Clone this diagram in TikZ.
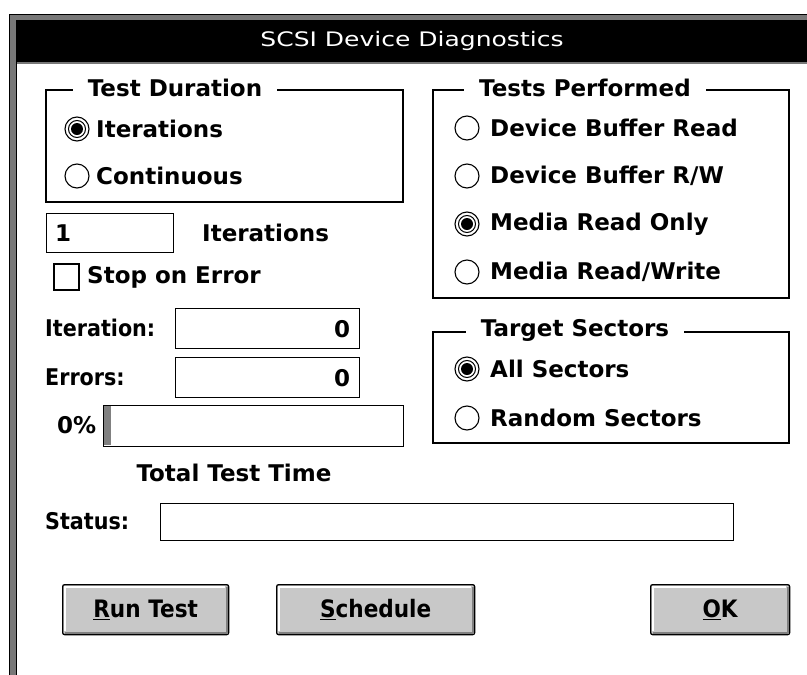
\documentclass[tikz,border=0pt]{standalone}
\usepackage{fontspec}
\setmainfont{DejaVu Sans}
\newfontfamily\titlefont[FakeStretch=1.25]{DejaVu Sans}
\newfontfamily\narrowfont[FakeStretch=0.9]{DejaVu Sans}
\usepackage{xcolor}
\usepackage{tikz}
\usetikzlibrary{positioning}

\definecolor{framegray}{RGB}{120,120,120}
\definecolor{btnface}{RGB}{200,200,200}
\definecolor{btnshade}{RGB}{128,128,128}

\begin{document}
\begin{tikzpicture}[x=1pt, y=-1pt,
  txt/.style={font=\fontsize{23}{26}\selectfont\bfseries, inner sep=0pt, anchor=west},
  narrowtxt/.style={txt, font=\narrowfont\fontsize{23}{26}\selectfont\bfseries},
  grptitle/.style={txt, anchor=center, fill=white, inner xsep=15pt, inner ysep=3pt},
  grpbox/.style={draw, line width=1.3pt},
  field/.style={draw, line width=1.3pt, fill=white, inner sep=0pt, anchor=north west},
  radio/.style={draw, line width=1.1pt, fill=white},
  btn/.style={draw, line width=1.3pt, fill=btnface, rounded corners=2pt,
    inner sep=0pt, anchor=north west, minimum height=50pt,
    font=\narrowfont\fontsize{24}{26}\selectfont\bfseries}
]
\useasboundingbox (0,0) rectangle (807,675);

% -- Window frame and title bar ---------------------------------------------
\fill[framegray] (9,14) rectangle (807,675);
\draw[black, line width=1pt] (9.5,675) -- (9.5,14.5) -- (807,14.5);
\fill[black] (16,20) rectangle (807,62);
\fill[white] (17,64) rectangle (807,675);
\draw[black, line width=1pt] (16.5,62) -- (16.5,675);
\node[font=\titlefont\fontsize{20}{24}\selectfont, text=white] (title) at (412,41)
  {SCSI Device Diagnostics};

% -- Test Duration group ----------------------------------------------------
\draw[grpbox] (46,90) rectangle (403,202);
\node[grptitle] (tdTitle) at (175,88) {Test Duration};
\foreach \y/\t [count=\i] in {129/Iterations, 176/Continuous} {
  \draw[radio] (77,\y) circle (12);
  \node[txt] (td\i) at (96,\y) {\t};
}
\draw[line width=1pt] (77,129) circle (8.5);
\fill (77,129) circle (6);

% -- Iteration count and stop option ----------------------------------------
\node[field, minimum width=127pt, minimum height=39pt] (iterBox) at (46,213) {};
\node[txt] (iterVal) at ([xshift=9pt]iterBox.west) {1};
\node[txt] (iterLbl) at (202,233) {Iterations};
\draw[line width=1.2pt] (54,264) rectangle (79,290);
\coordinate (stopBox) at (79,277);
\node[txt, right=8pt of stopBox] (stopLbl) {Stop on Error};

% -- Counters and progress --------------------------------------------------
\node[field, minimum width=184pt, minimum height=40pt] (cntIter) at (175,308) {};
\node[field, minimum width=184pt, minimum height=40pt] (cntErr) at (175,357) {};
\node[narrowtxt] (cntIterLbl) at (45,328) {Iteration:};
\node[narrowtxt] (cntErrLbl) at (45,377) {Errors:};
\node[txt, anchor=east] (cntIterVal) at ([xshift=-10pt]cntIter.east) {0};
\node[txt, anchor=east] (cntErrVal) at ([xshift=-10pt]cntErr.east) {0};
\node[field, minimum width=300pt, minimum height=41pt] (pbar) at (103,405) {};
\fill[btnshade] (104,406) rectangle (111,445);
\node[txt] (pct) at (57,425) {0\%};
\node[txt, anchor=center] (totTime) at (234,473) {Total Test Time};

% -- Tests Performed group --------------------------------------------------
\draw[grpbox] (433,90) rectangle (789,298);
\node[grptitle] (tpTitle) at (585,88) {Tests Performed};
\foreach \y/\t [count=\i] in {128/Device Buffer Read, 176/{Device Buffer R/W},
    224/Media Read Only, 272/{Media Read/Write}} {
  \draw[radio] (467,\y) circle (12);
  \node[txt] (tp\i) at (490,\y) {\t};
}
\draw[line width=1pt] (467,224) circle (8.5);
\fill (467,224) circle (6);

% -- Target Sectors group ---------------------------------------------------
\draw[grpbox] (433,332) rectangle (789,443);
\node[grptitle] (tsTitle) at (575,330) {Target Sectors};
\foreach \y/\t [count=\i] in {369/All Sectors, 418/Random Sectors} {
  \draw[radio] (467,\y) circle (12);
  \node[txt] (ts\i) at (490,\y) {\t};
}
\draw[line width=1pt] (467,369) circle (8.5);
\fill (467,369) circle (6);

% -- Status line ------------------------------------------------------------
\node[narrowtxt] (statLbl) at (45,521) {Status:};
\node[field, minimum width=573pt, minimum height=37pt] (statBox) at (160,503) {};

% -- Buttons ----------------------------------------------------------------
\node[btn, minimum width=166pt] (runBtn) at (62,584) {\underline{R}un Test};
\node[btn, minimum width=198pt] (schedBtn) at (276,584) {\underline{S}chedule};
\node[btn, minimum width=139pt] (okBtn) at (650,584) {\underline{O}K};
\foreach \b in {runBtn, schedBtn, okBtn} {
  \draw[white, line width=2pt]
    ([shift={(2.5pt,4pt)}]\b.south west) -- ([shift={(2.5pt,-2.5pt)}]\b.north west)
    -- ([shift={(-4pt,-2.5pt)}]\b.north east);
  \draw[btnshade, line width=2.5pt]
    ([shift={(3pt,2.5pt)}]\b.south west) -- ([shift={(-2.5pt,2.5pt)}]\b.south east)
    -- ([shift={(-2.5pt,-3pt)}]\b.north east);
}

\end{tikzpicture}
\end{document}
